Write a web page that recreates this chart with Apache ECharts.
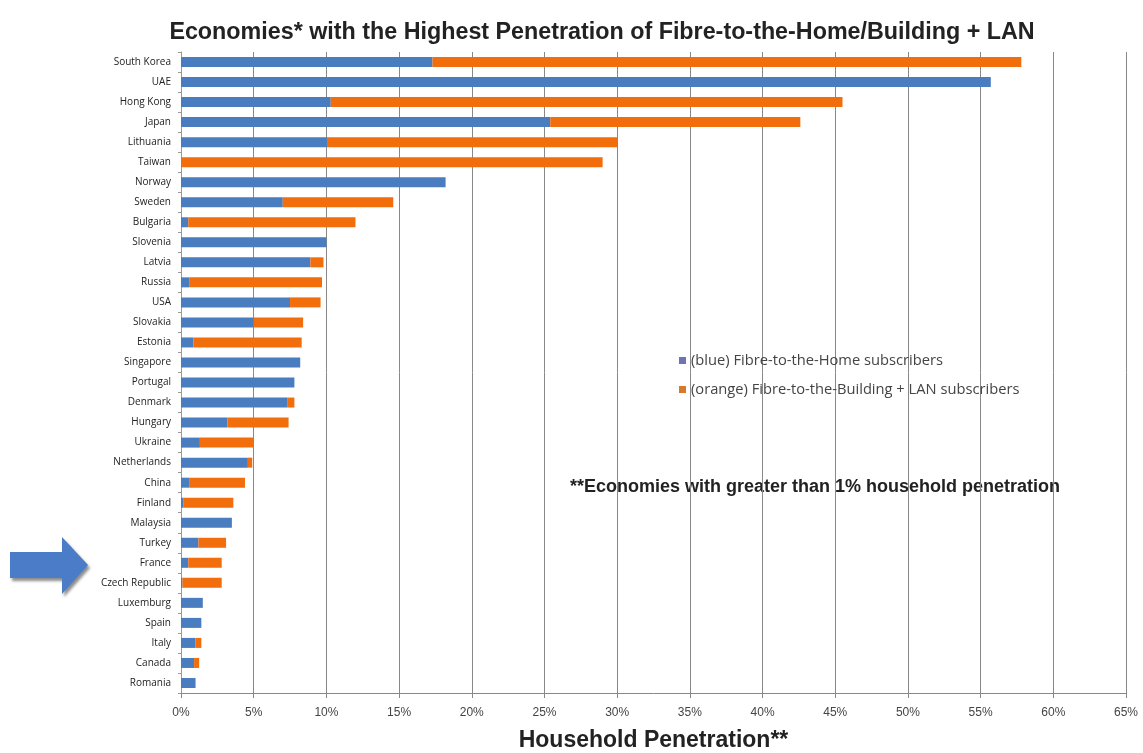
<!DOCTYPE html>
<html><head><meta charset="utf-8">
<script src="https://cdn.jsdelivr.net/npm/echarts@6/dist/echarts.min.js"></script>
<style>html,body{margin:0;padding:0;background:#fff}#c{width:1143px;height:753px}</style>
</head><body><div id="c"></div>
<script>
const categories = ["South Korea","UAE","Hong Kong","Japan","Lithuania","Taiwan","Norway","Sweden","Bulgaria","Slovenia","Latvia","Russia","USA","Slovakia","Estonia","Singapore","Portugal","Denmark","Hungary","Ukraine","Netherlands","China","Finland","Malaysia","Turkey","France","Czech Republic","Luxemburg","Spain","Italy","Canada","Romania"];
const ftthValues = [17.3,55.7,10.3,25.4,10.1,0,18.2,7.0,0.5,10.0,8.9,0.6,7.5,5.0,0.85,8.2,7.8,7.3,3.2,1.3,4.6,0.6,0.15,3.5,1.2,0.5,0.1,1.5,1.4,1.0,0.9,1.0];
const fttbValues = [40.5,0,35.2,17.2,19.9,29.0,0,7.6,11.5,0,0.9,9.1,2.1,3.4,7.45,0,0,0.5,4.2,3.7,0.3,3.8,3.45,0,1.9,2.3,2.7,0,0,0.4,0.35,0];
const xTicks = [0,5,10,15,20,25,30,35,40,45,50,55,60,65];

const chart = echarts.init(document.getElementById('c'));
chart.setOption({
  animation:false,
  backgroundColor:'#fff',
  title:{text:'Economies* with the Highest Penetration of Fibre-to-the-Home/Building + LAN',left:597,textAlign:'center',top:16,
    textStyle:{fontFamily:'Liberation Sans',fontWeight:'bold',fontSize:23.3,color:'#222'}},
  grid:{left:181,right:17,top:52,bottom:60,outerBoundsMode:'none',containLabel:false},
  legend:{orient:'vertical',left:674,top:348,itemGap:14,itemWidth:7,itemHeight:7,icon:'rect',
    textStyle:{fontFamily:'Open Sans',fontSize:14.7,color:'#444'},
    data:[{name:'(blue) Fibre-to-the-Home subscribers',itemStyle:{color:'#6f74b8'}},
          {name:'(orange) Fibre-to-the-Building + LAN subscribers',itemStyle:{color:'#d8792a'}}]},
  xAxis:{type:'value',min:xTicks[0],max:xTicks[xTicks.length-1],interval:5,
    axisLabel:{formatter:v=>v+'%',fontFamily:'Liberation Sans',fontSize:12,color:'#444',margin:14},
    axisLine:{show:true,lineStyle:{color:'#888'}},
    axisTick:{show:true,length:5,lineStyle:{color:'#888'}},
    splitLine:{show:true,lineStyle:{color:'#888',width:1}},
    name:'Household Penetration**',nameLocation:'middle',nameGap:36,
    nameTextStyle:{fontFamily:'Liberation Sans',fontWeight:'bold',fontSize:23,color:'#222'}},
  yAxis:{type:'category',data:categories,inverse:true,
    axisLine:{show:true,lineStyle:{color:'#999'}},
    axisTick:{show:true,length:3,lineStyle:{color:'#999'}},
    axisLabel:{fontFamily:'Open Sans',fontSize:10,color:'#222',margin:10}},
  series:[
    {name:'(blue) Fibre-to-the-Home subscribers',type:'bar',stack:'s',data:ftthValues,barWidth:10,itemStyle:{color:'#4a7cc0'}},
    {name:'(orange) Fibre-to-the-Building + LAN subscribers',type:'bar',stack:'s',data:fttbValues,barWidth:10,itemStyle:{color:'#f26d0c'}}
  ],
  graphic:[
    {type:'text',left:570,top:478,style:{text:'**Economies with greater than 1% household penetration',font:'bold 18px Liberation Sans',fill:'#222'}},
    {type:'polygon',shape:{points:[[10,552],[62,552],[62,537],[88,565],[62,594],[62,578],[10,578]]},
      style:{fill:'#4a7cc8',shadowBlur:3,shadowOffsetX:2,shadowOffsetY:3,shadowColor:'rgba(0,0,0,0.45)'}}
  ]
});
</script></body></html>
